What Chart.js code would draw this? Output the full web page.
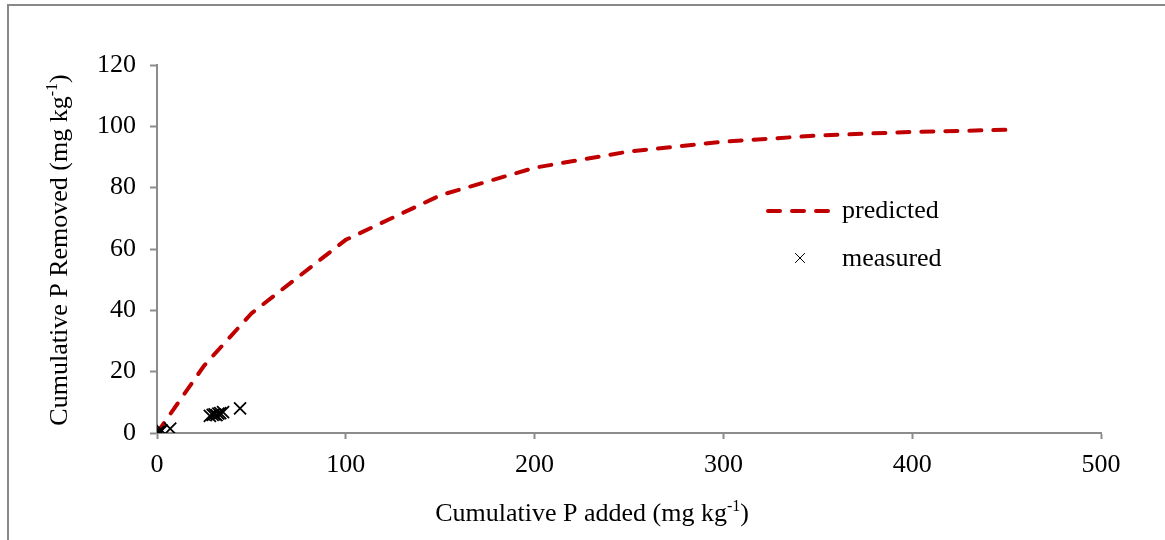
<!DOCTYPE html>
<html>
<head>
<meta charset="utf-8">
<script src="https://cdn.jsdelivr.net/npm/chart.js@4/dist/chart.umd.min.js"></script>
<style>
  html,body{margin:0;padding:0;background:#fff;}
  #wrap{position:relative;width:1165px;height:540px;overflow:hidden;}
  #frame{position:absolute;left:7px;top:4px;width:1170px;height:560px;border-left:2px solid #888;border-top:2px solid #888;box-sizing:border-box;pointer-events:none;}
  canvas{position:absolute;left:0;top:0;}
</style>
</head>
<body>
<div id="wrap">
  <canvas id="c" width="1165" height="540"></canvas>
  <div id="frame"></div>
</div>
<script>
// ---- data ----
const predictedX = [0, 25, 50, 100, 150, 200, 250, 300, 350, 400, 453];
const predictedY = [0, 22, 39, 63, 77.5, 86.5, 91.8, 95, 97, 98.2, 98.9];
const measuredX = [0.5, 1.5, 2.5, 7, 28, 29.5, 30.5, 31.5, 32.5, 33.5, 35, 44];
const measuredY = [0.3, 0.5, 0.8, 1.4, 5.6, 5.9, 6.1, 5.8, 6.3, 6.5, 6.8, 8.0];
const xTicks = [0, 100, 200, 300, 400, 500];
const yTicks = [0, 20, 40, 60, 80, 100, 120];
const seriesNames = ['predicted', 'measured'];
const xTitle = ['Cumulative P added (mg kg', '-1', ')'];
const yTitle = ['Cumulative P Removed (mg kg', '-1', ')'];

const FONT = '"Liberation Serif", "Times New Roman", serif';
const FS = 26;
const RED = '#C00000';
const AXIS = '#8c8c8c';

function drawSupText(ctx, parts, cx, cy, size) {
  ctx.save();
  const f1 = size + 'px ' + FONT;
  const f2 = Math.round(size * 0.62) + 'px ' + FONT;
  ctx.font = f1; const w0 = ctx.measureText(parts[0]).width;
  ctx.font = f2; const w1 = ctx.measureText(parts[1]).width;
  ctx.font = f1; const w2 = ctx.measureText(parts[2]).width;
  const total = w0 + w1 + w2;
  let x = cx - total / 2;
  ctx.fillStyle = '#000';
  ctx.textBaseline = 'alphabetic';
  ctx.textAlign = 'left';
  const base = cy + size * 0.33;
  ctx.font = f1; ctx.fillText(parts[0], x, base); x += w0;
  ctx.font = f2; ctx.fillText(parts[1], x, base - size * 0.36); x += w1;
  ctx.font = f1; ctx.fillText(parts[2], x, base);
  ctx.restore();
}

const overlay = {
  id: 'overlay',
  afterDraw(chart) {
    const ctx = chart.ctx;
    // axis titles
    drawSupText(ctx, xTitle, 592, 512, FS);
    ctx.save();
    ctx.translate(58, 250);
    ctx.rotate(-Math.PI / 2);
    drawSupText(ctx, yTitle, 0, 0, FS);
    ctx.restore();
    // legend
    const ds0 = chart.data.datasets[0];
    ctx.save();
    ctx.strokeStyle = ds0.borderColor;
    ctx.lineWidth = ds0.borderWidth;
    ctx.lineCap = 'round';
    ctx.setLineDash(ds0.borderDash);
    ctx.beginPath();
    ctx.moveTo(768, 211); ctx.lineTo(832, 211);
    ctx.stroke();
    ctx.restore();
    ctx.save();
    ctx.strokeStyle = '#000';
    ctx.fillStyle = '#000';
    Chart.helpers.drawPoint(ctx, {pointStyle: 'crossRot', radius: 7, borderWidth: 1.3, rotation: 0}, 800, 258);
    ctx.restore();
    ctx.save();
    ctx.fillStyle = '#000';
    ctx.font = FS + 'px ' + FONT;
    ctx.textBaseline = 'middle';
    ctx.textAlign = 'left';
    ctx.fillText(chart.data.datasets[0].label, 842, 211);
    ctx.fillText(chart.data.datasets[1].label, 842, 259);
    ctx.restore();
  }
};

new Chart(document.getElementById('c'), {
  type: 'scatter',
  data: {
    datasets: [
      {
        label: seriesNames[0],
        type: 'line',
        data: predictedX.map((x, i) => ({x, y: predictedY[i]})),
        borderColor: RED,
        backgroundColor: RED,
        borderWidth: 4,
        borderDash: [12, 12],
        borderCapStyle: 'round',
        tension: 0,
        pointRadius: 0,
        fill: false,
        order: 2
      },
      {
        label: seriesNames[1],
        data: measuredX.map((x, i) => ({x, y: measuredY[i]})),
        pointStyle: 'crossRot',
        pointRadius: 8.5,
        pointBorderWidth: 1.8,
        borderColor: '#000',
        backgroundColor: '#000',
        order: 1
      }
    ]
  },
  options: {
    responsive: false,
    animation: false,
    devicePixelRatio: 1,
    layout: {padding: {left: 0, top: 65, right: 64, bottom: 0}},
    plugins: {legend: {display: false}, tooltip: {enabled: false}},
    scales: {
      x: {
        type: 'linear', min: 0, max: 500,
        afterBuildTicks: s => { s.ticks = xTicks.map(v => ({value: v})); },
        afterFit: s => { s.height = 107; },
        border: {display: true, color: AXIS, width: 2},
        grid: {display: true, drawOnChartArea: false, drawTicks: true, tickLength: 6, color: AXIS, tickWidth: 2},
        ticks: {color: '#000', font: {family: FONT, size: FS}, padding: 11, maxRotation: 0}
      },
      y: {
        type: 'linear', min: 0, max: 120,
        afterBuildTicks: s => { s.ticks = yTicks.map(v => ({value: v})); },
        afterFit: s => { s.width = 157; },
        border: {display: true, color: AXIS, width: 2},
        grid: {display: true, drawOnChartArea: false, drawTicks: true, tickLength: 7, color: AXIS, tickWidth: 2},
        ticks: {color: '#000', font: {family: FONT, size: FS}, padding: 14}
      }
    }
  },
  plugins: [overlay]
});
</script>
</body>
</html>
